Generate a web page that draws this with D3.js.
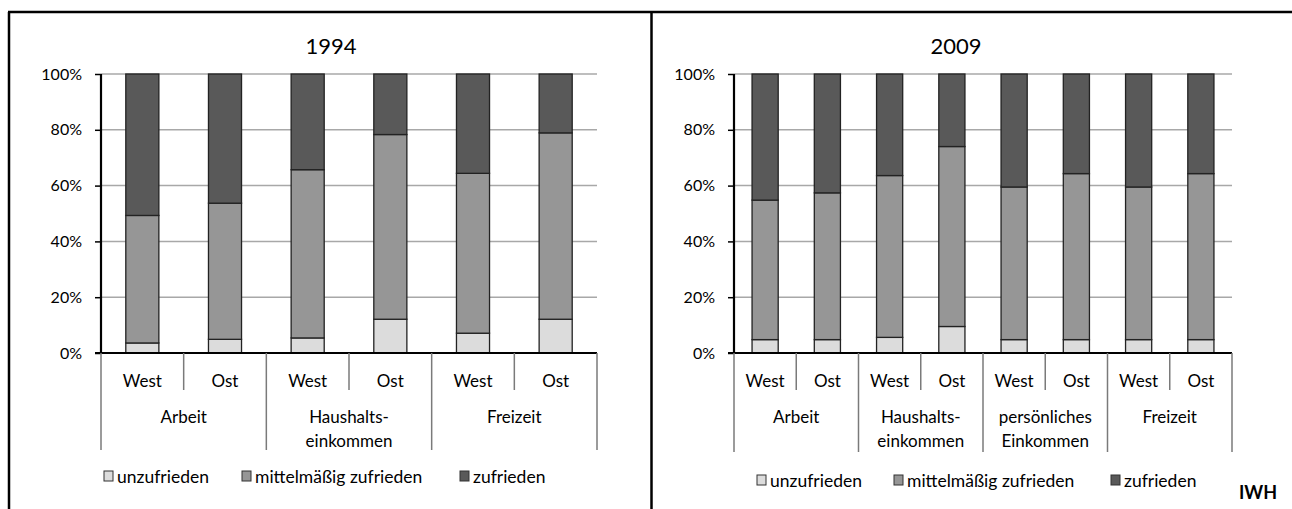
<!DOCTYPE html>
<html>
<head>
<meta charset="utf-8">
<script src="https://cdn.jsdelivr.net/npm/d3@7"></script>
<style>
  html, body { margin: 0; padding: 0; background: #fff; }
  svg { display: block; font-family: Lato, "Open Sans", sans-serif; }
</style>
</head>
<body>
<svg id="chart" width="1292" height="509"></svg>
<script>
// ---------- data ----------
const seriesNames = ["unzufrieden", "mittelmäßig zufrieden", "zufrieden"];
const regions = ["West", "Ost"];

const groups1994 = ["Arbeit", "Haushalts-|einkommen", "Freizeit"];
const unz1994 = [3.6, 4.9, 5.4, 12.1, 7.1, 12.1];
const mit1994 = [45.7, 48.8, 60.3, 66.2, 57.3, 66.8];
const zuf1994 = [50.7, 46.3, 34.3, 21.7, 35.6, 21.1];

const groups2009 = ["Arbeit", "Haushalts-|einkommen", "persönliches|Einkommen", "Freizeit"];
const unz2009 = [4.8, 4.8, 5.6, 9.5, 4.8, 4.8, 4.8, 4.8];
const mit2009 = [50.0, 52.6, 58.0, 64.5, 54.7, 59.5, 54.7, 59.5];
const zuf2009 = [45.2, 42.6, 36.4, 26.0, 40.5, 35.7, 40.5, 35.7];

const yTicks = [0, 20, 40, 60, 80, 100];
const tickLabels = ["0%", "20%", "40%", "60%", "80%", "100%"];

const colors = ["#dcdcdc", "#969696", "#595959"];

// ---------- drawing ----------
const svg = d3.select("#chart");

// outer frame lines
const frame = svg.append("g").attr("stroke", "#000").attr("stroke-width", 2.5).attr("fill", "none");
frame.append("line").attr("x1", 8).attr("x2", 1292).attr("y1", 12).attr("y2", 12);
frame.append("line").attr("x1", 9).attr("x2", 9).attr("y1", 12).attr("y2", 509);
frame.append("line").attr("x1", 651.5).attr("x2", 651.5).attr("y1", 12).attr("y2", 509);

function drawPanel(cfg) {
  const { title, titleX, groups, unz, mit, zuf, x0, x1, yTop, yBot, barRatio, legend, catBottom } = cfg;
  const g = svg.append("g");
  const cats = [];
  groups.forEach(gr => regions.forEach(r => cats.push(gr + "|" + r)));
  const x = d3.scaleBand().domain(d3.range(cats.length)).range([x0, x1]).paddingInner(0).paddingOuter(0);
  const y = d3.scaleLinear().domain([0, 100]).range([yBot, yTop]);

  // title
  g.append("text").attr("x", titleX).attr("y", 45).attr("text-anchor", "middle")
    .attr("dominant-baseline", "central").attr("font-size", 22).text(title);

  // gridlines
  g.append("g").selectAll("line").data(yTicks.filter(t => t > 0)).join("line")
    .attr("x1", x0).attr("x2", x1).attr("y1", d => y(d)).attr("y2", d => y(d))
    .attr("stroke", "#a8a8a8").attr("stroke-width", 1.5);

  // y axis
  const yAxis = d3.axisLeft(y).tickValues(yTicks).tickSize(6).tickPadding(13)
    .tickFormat((d, i) => tickLabels[i]);
  const ya = g.append("g").attr("transform", `translate(${x0},0)`).call(yAxis);
  ya.select(".domain").remove();
  ya.selectAll(".tick line").attr("stroke", "#000").attr("stroke-width", 1.5);
  ya.selectAll(".tick text").attr("font-size", 16).attr("fill", "#000")
    .attr("font-family", "Lato, sans-serif");
  g.append("line").attr("x1", x0).attr("x2", x0).attr("y1", yTop).attr("y2", yBot)
    .attr("stroke", "#000").attr("stroke-width", 2.2);

  // stacked bars
  const rows = cats.map((c, i) => ({ i, unzufrieden: unz[i], "mittelmäßig zufrieden": mit[i], zufrieden: zuf[i] }));
  const stack = d3.stack().keys(seriesNames)(rows);
  const bw = x.bandwidth() * barRatio;
  stack.forEach((layer, li) => {
    g.append("g").selectAll("rect").data(layer).join("rect")
      .attr("x", d => x(d.data.i) + (x.bandwidth() - bw) / 2)
      .attr("width", bw)
      .attr("y", d => y(d[1]))
      .attr("height", d => y(d[0]) - y(d[1]))
      .attr("fill", colors[li])
      .attr("stroke", "#222").attr("stroke-width", 1.3);
  });

  // baseline
  g.append("line").attr("x1", x0 - 6).attr("x2", x1).attr("y1", yBot).attr("y2", yBot)
    .attr("stroke", "#000").attr("stroke-width", 2.2);

  // category axis separators
  const sep = g.append("g").attr("stroke", "#7a7a7a").attr("stroke-width", 1.5);
  d3.range(cats.length + 1).forEach(k => {
    const xx = k < cats.length ? x(k) : x1;
    const long = k % 2 === 0;
    sep.append("line").attr("x1", xx).attr("x2", xx).attr("y1", yBot)
      .attr("y2", long ? catBottom : yBot + 37);
  });

  // region labels
  g.append("g").selectAll("text").data(cats).join("text")
    .attr("x", (d, i) => x(i) + x.bandwidth() / 2).attr("y", 380)
    .attr("text-anchor", "middle").attr("dominant-baseline", "central")
    .attr("font-size", 17).text(d => d.split("|").pop());

  // group labels
  groups.forEach((gr, gi) => {
    const cx = x(gi * 2) + x.bandwidth();
    const lines = gr.split("|");
    lines.forEach((ln, li) => {
      g.append("text").attr("x", cx).attr("y", 416 + li * 24)
        .attr("text-anchor", "middle").attr("dominant-baseline", "central")
        .attr("font-size", 17).text(ln);
    });
  });

  // legend
  seriesNames.forEach((s, si) => {
    const lx = legend.xs[si];
    g.append("rect").attr("x", lx).attr("y", legend.y - 5).attr("width", 9).attr("height", 10)
      .attr("fill", colors[si]).attr("stroke", "#333").attr("stroke-width", 1);
    g.append("text").attr("x", lx + 13).attr("y", legend.y).attr("dominant-baseline", "central")
      .attr("font-size", 17.5).text(s);
  });
}

drawPanel({
  title: "1994", titleX: 331, groups: groups1994, unz: unz1994, mit: mit1994, zuf: zuf1994,
  x0: 101, x1: 597, yTop: 74, yBot: 353, barRatio: 0.4, catBottom: 450,
  legend: { y: 476, xs: [104, 242, 460] }
});
drawPanel({
  title: "2009", titleX: 956, groups: groups2009, unz: unz2009, mit: mit2009, zuf: zuf2009,
  x0: 734, x1: 1232, yTop: 74, yBot: 353, barRatio: 0.42, catBottom: 452,
  legend: { y: 480, xs: [757, 894, 1111] }
});

svg.append("text").attr("x", 1258).attr("y", 492).attr("text-anchor", "middle")
  .attr("dominant-baseline", "central").attr("font-size", 18).attr("font-weight", "bold")
  .text("IWH");
</script>
</body>
</html>
